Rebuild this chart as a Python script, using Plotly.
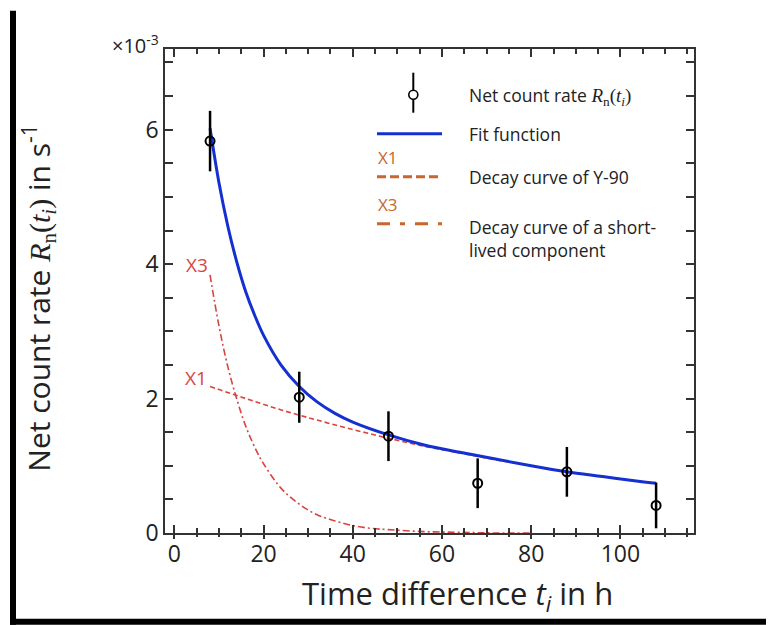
import plotly.graph_objects as go

# ---- data (rates in units of 1e-3 s^-1) ----
t_points = [8, 28, 48, 68, 88, 108]
rate = [5.83, 2.02, 1.44, 0.74, 0.91, 0.41]
rate_err = [0.45, 0.38, 0.37, 0.37, 0.37, 0.34]

t_fit = [8, 10, 12, 14, 16, 18, 20, 24, 28, 32, 36, 40, 48, 56, 64, 72, 80, 88, 96, 104, 108]
fit_vals = [6.02, 5.21, 4.56, 4.03, 3.59, 3.24, 2.94, 2.49, 2.18, 1.95, 1.78, 1.65, 1.46,
            1.31, 1.20, 1.10, 1.00, 0.91, 0.84, 0.77, 0.74]

t_x1 = [8, 16, 24, 32, 40, 48, 56, 64, 72, 80, 88, 96, 104, 108]
x1_vals = [2.18, 2.00, 1.83, 1.68, 1.54, 1.41, 1.29, 1.19, 1.09, 1.00, 0.91, 0.84, 0.77, 0.74]

t_x3 = [8, 10, 12, 14, 16, 18, 20, 24, 28, 32, 36, 40, 44, 48, 56, 64, 72, 80]
x3_vals = [3.84, 3.08, 2.47, 1.99, 1.59, 1.28, 1.03, 0.66, 0.43, 0.27, 0.18, 0.11, 0.07,
           0.05, 0.02, 0.01, 0.0, 0.0]

x_ticks = [0, 20, 40, 60, 80, 100]
y_ticks = [0, 2, 4, 6]
y_ticklabels = ["0", "2", "4", "6"]

BLUE = "#1530d0"
RED = "#d8443f"
ORANGE = "#c8662c"
FONT = "Open Sans"

# page has an 8px body margin: figure is 766x617 so it fills the 774x625 window
OFF = 8
FIG_W, FIG_H = 774 - OFF, 625 - OFF
# plot area in window pixels
L, R, T, B = 165, 694, 49.3, 533.3
W, H = R - L, B - T


def px(x):
    return (x - L) / W


def py(y):
    return (B - y) / H


fig = go.Figure()

fig.add_trace(go.Scatter(x=t_x3, y=x3_vals, mode="lines", line=dict(color=RED, width=1.6, dash="7px,3px,2px,3px", shape="spline"),
                         showlegend=False, hoverinfo="skip"))
fig.add_trace(go.Scatter(x=t_x1, y=x1_vals, mode="lines", line=dict(color=RED, width=1.6, dash="5px,3px", shape="spline"),
                         showlegend=False, hoverinfo="skip"))
fig.add_trace(go.Scatter(x=t_fit, y=fit_vals, mode="lines", line=dict(color=BLUE, width=3, shape="spline"),
                         showlegend=False))
fig.add_trace(go.Scatter(x=t_points, y=rate, mode="markers",
                         marker=dict(symbol="circle-open", size=9, color="black", line=dict(width=2, color="black")),
                         error_y=dict(type="data", array=rate_err, visible=True, color="black", thickness=2.5, width=0),
                         showlegend=False))
# helper axis for outward part of crossing x ticks
fig.add_trace(go.Scatter(x=[None], y=[None], xaxis="x2", showlegend=False, hoverinfo="skip"))

axis_common = dict(showgrid=False, zeroline=False, showline=True, linecolor="#333", linewidth=1.5,
                   mirror="ticks", ticks="inside", tickcolor="#333", tickwidth=1.5,
                   tickfont=dict(family=FONT, size=23, color="#222"))

fig.update_layout(
    width=FIG_W, height=FIG_H,
    margin=dict(l=L - OFF, r=FIG_W - (R - OFF), t=T - OFF, b=FIG_H - (B - OFF)),
    paper_bgcolor="white", plot_bgcolor="white",
    showlegend=False,
    xaxis=dict(range=[-2.1, 116.5], tickvals=x_ticks, ticklen=8,
               minor=dict(dtick=5, tick0=0, ticks="inside", ticklen=5, tickcolor="#333", tickwidth=1.5),
               **axis_common),
    xaxis2=dict(range=[-2.1, 116.5], overlaying="x", side="bottom", anchor="y", showgrid=False, zeroline=False,
                showline=False, showticklabels=False, tickvals=x_ticks, ticks="outside", ticklen=5,
                tickcolor="#333", tickwidth=1.5,
                minor=dict(dtick=5, tick0=0, ticks="outside", ticklen=3, tickcolor="#333", tickwidth=1.5)),
    yaxis=dict(range=[0, 7.2], tickvals=y_ticks, ticktext=y_ticklabels, ticklen=8,
               minor=dict(dtick=0.5, tick0=0, ticks="inside", ticklen=8, tickcolor="#333", tickwidth=1.5),
               **axis_common),
)

shapes = []
annotations = []

# legend: error-bar sample
shapes.append(dict(type="line", xref="paper", yref="paper", x0=px(413.3), x1=px(413.3), y0=py(73), y1=py(113),
                   line=dict(color="black", width=2)))
shapes.append(dict(type="circle", xref="paper", yref="paper", x0=px(408.8), x1=px(417.8), y0=py(99.5), y1=py(90.5),
                   fillcolor="white", line=dict(color="black", width=1.6)))
# fit sample
shapes.append(dict(type="line", xref="paper", yref="paper", x0=px(377), x1=px(442), y0=py(134), y1=py(134),
                   line=dict(color=BLUE, width=3)))
# Y-90 sample
shapes.append(dict(type="line", xref="paper", yref="paper", x0=px(377), x1=px(442), y0=py(177), y1=py(177),
                   line=dict(color=ORANGE, width=3, dash="9px,4px")))
# short-lived sample
shapes.append(dict(type="line", xref="paper", yref="paper", x0=px(377), x1=px(442), y0=py(224), y1=py(224),
                   line=dict(color=ORANGE, width=3, dash="13px,10px,5px,10px")))

leg_font = dict(family=FONT, size=17.5, color="#222")
annotations += [
    dict(xref="paper", yref="paper", x=px(467), y=py(96), xanchor="left", yanchor="middle", showarrow=False,
         text="Net count rate <span style='font-family:Liberation Serif;font-size:19px'><i>R</i><sub>n</sub>(<i>t<sub>i</sub></i>)</span>",
         font=leg_font),
    dict(xref="paper", yref="paper", x=px(467), y=py(134), xanchor="left", yanchor="middle", showarrow=False,
         text="Fit function", font=leg_font),
    dict(xref="paper", yref="paper", x=px(467), y=py(177), xanchor="left", yanchor="middle", showarrow=False,
         text="Decay curve of Y-90", font=leg_font),
    dict(xref="paper", yref="paper", x=px(467), y=py(239), xanchor="left", yanchor="middle", showarrow=False,
         align="left", text="Decay curve of a short-<br>lived component", font=leg_font),
    dict(xref="paper", yref="paper", x=px(376), y=py(158), xanchor="left", yanchor="middle", showarrow=False,
         text="X1", font=dict(family=FONT, size=17, color=ORANGE)),
    dict(xref="paper", yref="paper", x=px(376), y=py(205), xanchor="left", yanchor="middle", showarrow=False,
         text="X3", font=dict(family=FONT, size=17, color=ORANGE)),
    # in-plot curve labels
    dict(x=5.0, y=3.99, xref="x", yref="y", showarrow=False, text="X3", font=dict(family=FONT, size=19, color=RED)),
    dict(x=4.9, y=2.31, xref="x", yref="y", showarrow=False, text="X1", font=dict(family=FONT, size=19, color=RED)),
    # exponent label
    dict(xref="paper", yref="paper", x=px(161), y=py(45), xanchor="right", yanchor="middle", showarrow=False,
         text="×10<sup>-3</sup>", font=dict(family=FONT, size=20, color="#222")),
    # axis titles
    dict(xref="paper", yref="paper", x=px(457), y=py(595), xanchor="center", yanchor="middle", showarrow=False,
         text="Time difference <i>t<sub>i</sub></i> in h", font=dict(family=FONT, size=31, color="#222")),
    dict(xref="paper", yref="paper", x=px(38), y=py(298), xanchor="center", yanchor="middle", showarrow=False,
         textangle=-90,
         text="Net count rate <span style='font-family:Liberation Serif'><i>R</i><sub>n</sub>(<i>t<sub>i</sub></i>)</span> in s<sup>-1</sup>",
         font=dict(family=FONT, size=30, color="#222")),
]

# black frame bars (left and bottom)
shapes.append(dict(type="rect", xref="paper", yref="paper", x0=px(10), x1=px(16), y0=py(625), y1=py(11),
                   fillcolor="black", line=dict(width=0)))
shapes.append(dict(type="rect", xref="paper", yref="paper", x0=px(10), x1=px(774), y0=py(625), y1=py(619),
                   fillcolor="black", line=dict(width=0)))

fig.update_layout(shapes=shapes, annotations=annotations)

fig.write_html("out.html")
